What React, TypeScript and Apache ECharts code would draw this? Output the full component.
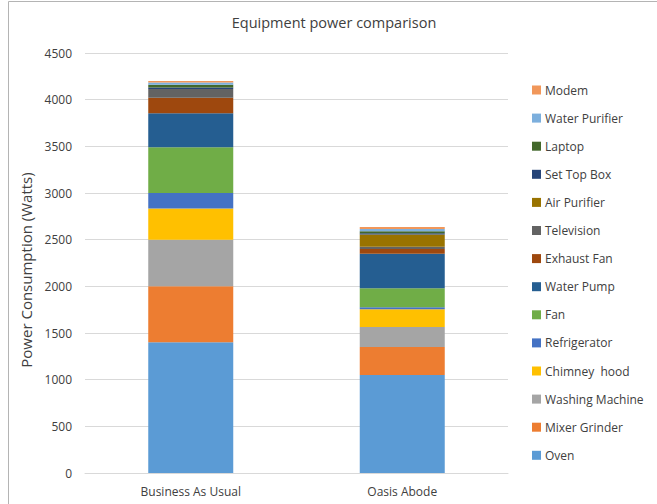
import React, { useEffect, useRef } from "react";
import * as echarts from "echarts";

const categories = ["Business As Usual", "Oasis Abode"];
const seriesNames = [
  "Oven",
  "Mixer Grinder",
  "Washing Machine",
  "Chimney  hood",
  "Refrigerator",
  "Fan",
  "Water Pump",
  "Exhaust Fan",
  "Television",
  "Air Purifier",
  "Set Top Box",
  "Laptop",
  "Water Purifier",
  "Modem",
];
const businessAsUsual = [1400, 600, 500, 335, 165, 490, 365, 165, 95, 0, 15, 30, 25, 15];
const oasisAbode = [1050, 300, 215, 190, 20, 205, 370, 50, 25, 130, 15, 20, 25, 20];
const colors = [
  "#5B9BD5",
  "#ED7D31",
  "#A5A5A5",
  "#FFC000",
  "#4472C4",
  "#70AD47",
  "#255E91",
  "#9E480E",
  "#636363",
  "#997300",
  "#264478",
  "#43682B",
  "#7CAFDD",
  "#F1975A",
];

const FONT = "'Open Sans', sans-serif";

export default function App() {
  const ref = useRef<HTMLDivElement>(null);
  useEffect(() => {
    if (!ref.current) return;
    const chart = echarts.init(ref.current, undefined, { renderer: "svg" });
    chart.setOption({
      animation: false,
      backgroundColor: "#ffffff",
      textStyle: { fontFamily: FONT },
      title: {
        text: "Equipment power comparison",
        left: 329,
        textAlign: "center",
        top: 10,
        textStyle: { fontFamily: FONT, fontSize: 14.5, fontWeight: "normal", color: "#404040" },
      },
      graphic: [
        {
          type: "rect",
          shape: { x: 8.5, y: 1.5, width: 700, height: 600 },
          style: { fill: "none", stroke: "#b4b4b4", lineWidth: 1 },
          silent: true,
        },
      ],
      legend: {
        orient: "vertical",
        left: 532,
        top: 83,
        itemWidth: 9,
        itemHeight: 9,
        itemGap: 14.1,
        padding: 0,
        icon: "rect",
        data: seriesNames.slice().reverse(),
        textStyle: { fontFamily: FONT, fontSize: 12, color: "#404040", lineHeight: 14, padding: [0, 0, 0, -1] },
      },
      grid: { left: 85, right: 149, top: 53, bottom: 31, containLabel: false },
      xAxis: {
        type: "category",
        data: categories,
        axisLine: { lineStyle: { color: "#d9d9d9" } },
        axisTick: { show: false },
        axisLabel: { margin: 12, fontFamily: FONT, fontSize: 12, color: "#404040" },
      },
      yAxis: {
        type: "value",
        min: 0,
        max: 4500,
        interval: 500,
        name: "Power Consumption (Watts)",
        nameLocation: "middle",
        nameGap: 52,
        nameTextStyle: { fontFamily: FONT, fontSize: 15, color: "#404040", padding: [0, 14, 0, 0] },
        axisLine: { show: false },
        axisTick: { show: false },
        splitLine: { lineStyle: { color: "#d9d9d9" } },
        axisLabel: {
          margin: 13,
          fontFamily: FONT,
          fontSize: 12,
          color: "#404040",
          formatter: (v: number) => String(v),
        },
      },
      series: seriesNames.map((name, i) => ({
        name,
        type: "bar",
        stack: "total",
        barWidth: 85,
        data: [businessAsUsual[i], oasisAbode[i]],
        itemStyle: { color: colors[i] },
      })),
    });
    return () => chart.dispose();
  }, []);
  return (
    <div
      ref={ref}
      style={{ position: "fixed", left: 0, top: 0, width: 657, height: 504 }}
    />
  );
}
